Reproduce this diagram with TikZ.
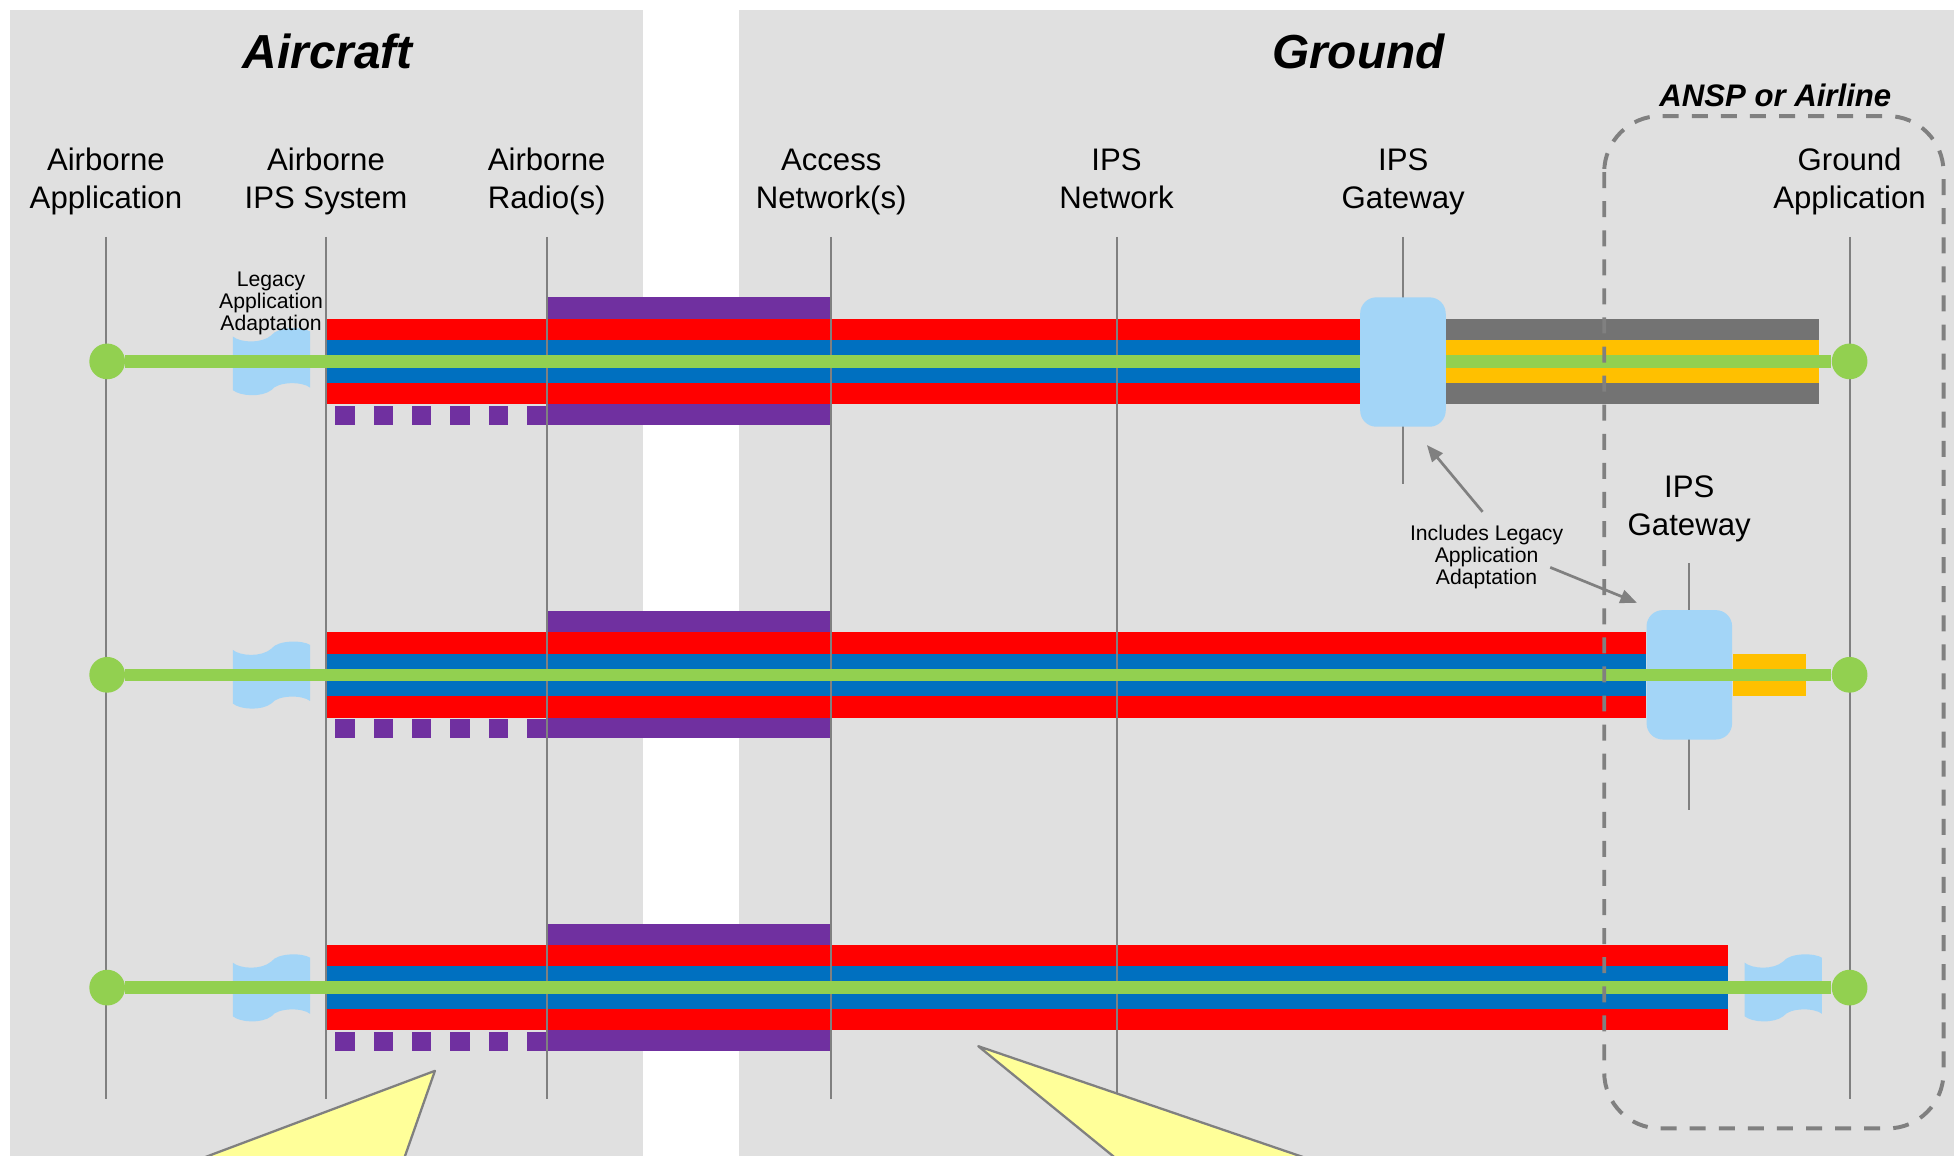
\documentclass[tikz,border=0pt]{standalone}
\usepackage{fontspec}
\setmainfont{Liberation Sans}
\usetikzlibrary{arrows.meta}

\definecolor{panelgray}{HTML}{E0E0E0}
\definecolor{linegray}{HTML}{808080}
\definecolor{bandred}{HTML}{FF0000}
\definecolor{bandblue}{HTML}{0070C0}
\definecolor{pathgreen}{HTML}{92D050}
\definecolor{bandpurple}{HTML}{7030A0}
\definecolor{bandyellow}{HTML}{FFC000}
\definecolor{banddark}{HTML}{737373}
\definecolor{gwblue}{HTML}{A3D5F7}
\definecolor{callyellow}{HTML}{FFFF99}

% legacy application adaptation shape
\newcommand{\adapt}[2]{%
  \fill[gwblue, shift={(#1,#2)}] (-31,-20) .. controls (-25,-15) and (-8,-14) .. (0,-21)
    .. controls (5,-28) and (25,-28) .. (31,-24) -- (31,21)
    .. controls (25,16) and (5,16) .. (0,23)
    .. controls (-8,29) and (-25,28) .. (-31,23) -- cycle;}

\begin{document}
\begin{tikzpicture}[x=0.6pt, y=-0.6pt]
    \tikzstyle{headline} = [font=\fontsize{23}{27}\selectfont\bfseries\itshape, anchor=base, inner sep=0pt]
    \tikzstyle{subhead} = [font=\fontsize{15}{18}\selectfont\bfseries\itshape, anchor=base, inner sep=0pt]
    \tikzstyle{colname} = [font=\fontsize{15}{18}\selectfont, align=center, anchor=base, inner sep=0pt]
    \tikzstyle{note} = [font=\fontsize{10.2}{10.4}\selectfont, align=center, anchor=base, inner sep=0pt]
    \tikzstyle{life} = [draw=linegray, line width=1pt]
    \tikzstyle{gwbox} = [fill=gwblue, rounded corners=7.8pt, minimum width=41.2pt, minimum height=62.3pt, inner sep=0pt]
    \tikzstyle{dot} = [circle, fill=pathgreen, minimum size=17.2pt, inner sep=0pt]
    \tikzstyle{greenline} = [draw=pathgreen, line width=5.9pt]
    \tikzstyle{callarrow} = [-{Triangle[length=8pt,width=6.5pt]}, draw=linegray, fill=linegray, line width=1.3pt]
    \tikzstyle{callout} = [fill=callyellow, draw=linegray, line width=1.1pt, line join=round]
    \tikzstyle{anspbox} = [draw=linegray, line width=1.9pt, dash pattern=on 7.7pt off 6.3pt, rounded corners=27pt]

    \clip (0,0) rectangle (1568,927.6);
    \fill[white] (0,0) rectangle (1568,927.6);

    % panels
    \fill[panelgray] (8,8) rectangle (516,940);
    \fill[panelgray] (593,8) rectangle (1575,940);

    \node[headline] (aircraft) at (263,55) {Aircraft};
    \node[headline] (ground) at (1090,55) {Ground};
    \node[subhead] (ansp) at (1424.6,85.6) {ANSP or Airline};

    % column names (base = last line)
    \node[colname] (aa) at (85,167.2) {Airborne\\Application};
    \node[colname] (ais) at (261.6,167.2) {Airborne\\IPS System};
    \node[colname] (ar) at (438.7,167.2) {Airborne\\Radio(s)};
    \node[colname] (an) at (667,167.2) {Access\\Network(s)};
    \node[colname] (ipsn) at (896,167.2) {IPS\\Network};
    \node[colname] (ipsg) at (1126,167.2) {IPS\\Gateway};
    \node[colname] (ga) at (1484.2,167.2) {Ground\\Application};

    % protocol stacks
    \foreach \cy/\xe in {290/1091.5, 541.5/1321, 792.5/1386.5} {
        \fill[bandpurple] (438.7,\cy-51.4) rectangle (667,\cy-34.4);
        \fill[bandpurple] (438.7,\cy+34.4) rectangle (667,\cy+51);
        \foreach \k in {0,...,5}
            \fill[bandpurple] (269+30.8*\k,\cy+35.6) rectangle ++(15.5,15.4);
        \fill[bandred] (261.6,\cy-34.4) rectangle (\xe,\cy+34.4);
        \fill[bandblue] (261.6,\cy-17.1) rectangle (\xe,\cy+17.1);
        \adapt{217.8}{\cy}
    }
    \fill[banddark] (1160.2,255.6) rectangle (1460,324.4);
    \fill[bandyellow] (1160.2,272.9) rectangle (1460,307.1);
    \fill[bandyellow] (1390.3,524.4) rectangle (1449.5,558.6);
    \adapt{1431}{792.5}

    % lifelines
    \foreach \x/\n in {85/1, 261.6/2, 438.7/3, 667/4, 896/5, 1484.2/6} {
        \coordinate (t\n) at (\x,190);
        \coordinate (b\n) at (\x,882);
        \draw[life] (t\n) -- (b\n);
    }
    \coordinate (g1t) at (1126,190);
    \coordinate (g1b) at (1126,388);
    \draw[life] (g1t) -- (g1b);
    \coordinate (g2t) at (1355.5,452);
    \coordinate (g2b) at (1355.5,650);
    \draw[life] (g2t) -- (g2b);

    % gateways and end-to-end paths
    \node[gwbox] (gw2) at (1355.6,541.5) {};
    \foreach \cy/\n in {290/1, 541.5/2, 792.5/3} {
        \node[dot] (l\n) at (86,\cy) {};
        \node[dot] (r\n) at (1484.2,\cy) {};
        \draw[greenline] (l\n) -- (r\n);
    }
    \node[gwbox] (gw1) at (1125.8,290.5) {};

    % callouts
    \filldraw[callout] (349,859.3) -- (76,961.8) -- (313,961.8) -- cycle;
    \filldraw[callout] (785,839.5) -- (947,971.6) -- (1172,971.6) -- cycle;

    % ANSP or airline domain
    \draw[anspbox] (1287.3,93.1) rectangle (1559.6,905.5);

    % notes
    \node[note] (legacy) at (217.5,264.9) {Legacy\\Application\\Adaptation};
    \node[note] (incl) at (1192.9,468.7) {Includes Legacy\\Application\\Adaptation};
    \node[colname] (ipsg2) at (1355.5,429.4) {IPS\\Gateway};

    \coordinate (n1a) at (1189.7,410.7);
    \coordinate (n1b) at (1145,357.1);
    \coordinate (n2a) at (1244,455.3);
    \coordinate (n2b) at (1313.6,483.7);
    \draw[callarrow] (n1a) -- (n1b);
    \draw[callarrow] (n2a) -- (n2b);
\end{tikzpicture}
\end{document}
